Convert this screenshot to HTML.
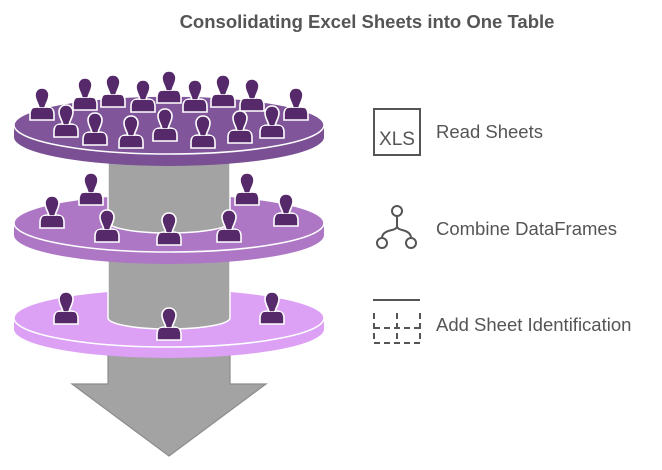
<!DOCTYPE html>
<html><head><meta charset="utf-8"><style>
body{margin:0;background:#fff;width:662px;height:470px;overflow:hidden}
svg{display:block}
text{font-family:"Liberation Sans",sans-serif}
</style></head><body>
<svg width="662" height="470" viewBox="0 0 662 470">
<defs>
<g id="p">
<path d="M-12,0 L-12,-6 Q-12,-13 -4,-13 L4,-13 Q12,-13 12,-6 L12,0 Z" fill="#56296a" stroke="#fff" stroke-width="1.6"/>
<path d="M0,-32 C-5,-32 -7,-28 -7,-25 C-7,-20 -4,-17 -3,-12 L3,-12 C4,-17 7,-20 7,-25 C7,-28 5,-32 0,-32Z" fill="#56296a" stroke="#fff" stroke-width="1.6"/>
<rect x="-10.5" y="-12" width="21" height="10.5" rx="3" fill="#56296a"/>
</g>
</defs>
<text x="367" y="28" text-anchor="middle" font-size="18.5" font-weight="bold" fill="#555">Consolidating Excel Sheets into One Table</text>

<path d="M108,350 L108,384 L72,384 L169,456 L266,384 L230,384 L230,350 Z" fill="#a3a3a3" stroke="#8c8c8c" stroke-width="1.2"/>

<path d="M14,318 L14,329 A155,29 0 0 0 324,329 L324,318 Z" fill="#dca0f5"/>
<ellipse cx="169" cy="318" rx="155" ry="29" fill="#dca0f5" stroke="#fff" stroke-width="1.5"/>
<path d="M108,258 L108,318 A61,11 0 0 0 230,318 L230,258Z" fill="#a3a3a3" stroke="#fff" stroke-width="1.5"/>
<use href="#p" x="66" y="324"/><use href="#p" x="272" y="324"/><use href="#p" x="169" y="340"/>

<path d="M14,223 L14,235 A155,29 0 0 0 324,235 L324,223 Z" fill="#ad77c6"/>
<ellipse cx="169" cy="223" rx="155" ry="29" fill="#ad77c6" stroke="#fff" stroke-width="1.5"/>
<use href="#p" x="91" y="205"/><use href="#p" x="247" y="205"/>
<path d="M108,160 L108,222 A61,11 0 0 0 230,222 L230,160Z" fill="#a3a3a3" stroke="#fff" stroke-width="1.5"/>
<use href="#p" x="52" y="228"/><use href="#p" x="286" y="226"/>
<use href="#p" x="107" y="242"/><use href="#p" x="229" y="242"/><use href="#p" x="169" y="245"/>

<path d="M14,125 L14,137 A155,29 0 0 0 324,137 L324,125 Z" fill="#7a4f93"/>
<ellipse cx="169" cy="125" rx="155" ry="29" fill="#80559a" stroke="#fff" stroke-width="1.5"/>
<use href="#p" x="42" y="120"/><use href="#p" x="85" y="110"/><use href="#p" x="113" y="107"/><use href="#p" x="143" y="112"/><use href="#p" x="169" y="103"/><use href="#p" x="195" y="112"/><use href="#p" x="223" y="107"/><use href="#p" x="252" y="111"/><use href="#p" x="296" y="120"/>
<use href="#p" x="66" y="137"/><use href="#p" x="95" y="145"/><use href="#p" x="131" y="148"/><use href="#p" x="165" y="141"/><use href="#p" x="203" y="148"/><use href="#p" x="240" y="143"/><use href="#p" x="272" y="138"/>

<rect x="374" y="109" width="46" height="46" fill="none" stroke="#555" stroke-width="2"/>
<text x="397" y="145" text-anchor="middle" font-size="19" fill="#555">XLS</text>
<text x="436" y="138" font-size="18.5" fill="#555">Read Sheets</text>

<g fill="none" stroke="#555" stroke-width="2">
<circle cx="397" cy="211" r="5"/><circle cx="382" cy="243" r="5"/><circle cx="411" cy="243" r="5"/>
<path d="M397,216 L397,226 Q397,229 392,230 Q382,232 382,238 M397,226 Q397,229 402,230 Q411,232 411,238"/>
<line x1="373" y1="300" x2="420" y2="300"/>
<path d="M374,313 v30 h46 v-30 M374,328 h46 M397,313 v30" stroke-dasharray="6,4"/>
</g>
<text x="436" y="235" font-size="18.5" fill="#555">Combine DataFrames</text>
<text x="436" y="331" font-size="18.5" fill="#555">Add Sheet Identification</text>
</svg>
</body></html>
